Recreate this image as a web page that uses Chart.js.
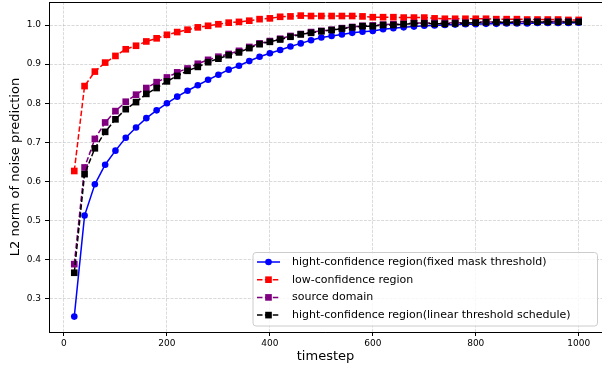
<!DOCTYPE html>
<html>
<head>
<meta charset="utf-8">
<script src="https://cdn.jsdelivr.net/npm/chart.js@4.4.0/dist/chart.umd.min.js"></script>
<style>
    html, body { margin: 0; padding: 0; background: #fff; }
    canvas { display: block; }
</style>
</head>
<body>
<canvas id="chart" width="602" height="368"></canvas>
<script>
const timesteps = [20, 40, 60, 80, 100, 120, 140, 160, 180, 200,
    220, 240, 260, 280, 300, 320, 340, 360, 380, 400,
    420, 440, 460, 480, 500, 520, 540, 560, 580, 600,
    620, 640, 660, 680, 700, 720, 740, 760, 780, 800,
    820, 840, 860, 880, 900, 920, 940, 960, 980, 1000];

const fixedMask = [0.255, 0.513, 0.593, 0.643, 0.679, 0.712, 0.738, 0.762, 0.782, 0.800,
    0.817, 0.832, 0.846, 0.860, 0.873, 0.886, 0.896, 0.908, 0.919, 0.928,
    0.936, 0.945, 0.953, 0.961, 0.968, 0.972, 0.976, 0.980, 0.983, 0.985,
    0.989, 0.992, 0.994, 0.996, 0.998, 0.999, 1.000, 1.001, 1.002, 1.002,
    1.003, 1.003, 1.004, 1.004, 1.004, 1.005, 1.005, 1.005, 1.005, 1.006];

const lowConf = [0.627, 0.844, 0.881, 0.904, 0.921, 0.938, 0.947, 0.958, 0.966, 0.975,
    0.982, 0.988, 0.994, 0.998, 1.002, 1.006, 1.008, 1.011, 1.015, 1.017,
    1.021, 1.022, 1.024, 1.023, 1.023, 1.023, 1.023, 1.023, 1.022, 1.020,
    1.020, 1.020, 1.019, 1.019, 1.019, 1.017, 1.016, 1.016, 1.016, 1.016,
    1.016, 1.015, 1.015, 1.015, 1.014, 1.014, 1.014, 1.014, 1.013, 1.013];

const sourceDomain = [0.389, 0.636, 0.709, 0.751, 0.780, 0.804, 0.822, 0.839, 0.854, 0.866,
    0.879, 0.889, 0.901, 0.911, 0.919, 0.926, 0.934, 0.944, 0.953, 0.959,
    0.965, 0.972, 0.977, 0.982, 0.985, 0.988, 0.992, 0.995, 0.998, 0.999,
    1.001, 1.002, 1.003, 1.005, 1.005, 1.005, 1.005, 1.006, 1.006, 1.007,
    1.008, 1.008, 1.008, 1.008, 1.009, 1.009, 1.009, 1.009, 1.009, 1.009];

const linearSchedule = [0.367, 0.619, 0.685, 0.727, 0.759, 0.785, 0.803, 0.824, 0.839, 0.856,
    0.870, 0.883, 0.893, 0.905, 0.914, 0.923, 0.930, 0.941, 0.951, 0.957,
    0.963, 0.970, 0.976, 0.980, 0.984, 0.987, 0.991, 0.994, 0.997, 0.997,
    1.000, 1.000, 1.002, 1.004, 1.004, 1.003, 1.003, 1.004, 1.005, 1.006,
    1.007, 1.007, 1.007, 1.007, 1.008, 1.008, 1.008, 1.008, 1.008, 1.008];

const seriesLabels = [
    'hight-confidence region(fixed mask threshold)',
    'low-confidence region',
    'source domain',
    'hight-confidence region(linear threshold schedule)'
];

const xTicks = [0, 200, 400, 600, 800, 1000];
const yTicks = [0.3, 0.4, 0.5, 0.6, 0.7, 0.8, 0.9, 1.0];

const FONT = '"DejaVu Sans", sans-serif';

function toPoints(ys) {
    return timesteps.map((t, i) => ({ x: t, y: ys[i] }));
}

function series(label, ys, color, style, dashed, order) {
    return {
        label: label,
        data: toPoints(ys),
        borderColor: color,
        backgroundColor: color,
        borderWidth: 1.5,
        borderDash: dashed ? [5.5, 2.4] : [],
        pointStyle: style,
        pointRadius: style === 'circle' ? 3.3 : 4.7,
        pointBackgroundColor: color,
        pointBorderWidth: 0,
        tension: 0,
        fill: false,
        order: order
    };
}

// matplotlib-like frame: top spine (right one is cut off in the reference)
const topSpine = {
    id: 'topSpine',
    afterDraw(chart) {
        const { ctx, chartArea } = chart;
        ctx.save();
        ctx.strokeStyle = '#000';
        ctx.lineWidth = 1;
        ctx.beginPath();
        ctx.moveTo(chartArea.left, chartArea.top + 0.5);
        ctx.lineTo(chartArea.right, chartArea.top + 0.5);
        ctx.stroke();
        ctx.restore();
    }
};

// boxed legend in the lower right corner of the plot
const boxLegend = {
    id: 'boxLegend',
    afterDraw(chart) {
        const { ctx, chartArea } = chart;
        const w = 344.5, h = 73.5;
        const x0 = chartArea.right - 4.5 - w;
        const y0 = chartArea.bottom - 6 - h;
        ctx.save();
        ctx.beginPath();
        ctx.roundRect(x0, y0, w, h, 3);
        ctx.fillStyle = 'rgba(255,255,255,0.8)';
        ctx.fill();
        ctx.strokeStyle = '#cccccc';
        ctx.lineWidth = 1;
        ctx.stroke();

        chart.data.datasets.forEach((ds, i) => {
            const cy = y0 + 9.5 + i * 17.7;
            ctx.strokeStyle = ds.borderColor;
            ctx.lineWidth = ds.borderWidth;
            ctx.setLineDash(ds.borderDash);
            ctx.beginPath();
            ctx.moveTo(x0 + 4, cy);
            ctx.lineTo(x0 + 27, cy);
            ctx.stroke();
            ctx.setLineDash([]);

            ctx.fillStyle = ds.pointBackgroundColor;
            ctx.beginPath();
            if (ds.pointStyle === 'circle') {
                ctx.arc(x0 + 15.5, cy, ds.pointRadius, 0, Math.PI * 2);
            } else {
                const s = ds.pointRadius * Math.SQRT1_2;
                ctx.rect(x0 + 15.5 - s, cy - s, 2 * s, 2 * s);
            }
            ctx.fill();

            ctx.fillStyle = '#000';
            ctx.font = '11px ' + FONT;
            ctx.textBaseline = 'middle';
            ctx.textAlign = 'left';
            ctx.fillText(ds.label, x0 + 39, cy);
        });
        ctx.restore();
    }
};

const gridColor = 'rgba(176,176,176,0.6)';

new Chart(document.getElementById('chart'), {
    type: 'line',
    data: {
        datasets: [
            series(seriesLabels[0], fixedMask, '#0000ff', 'circle', false, 3),
            series(seriesLabels[1], lowConf, '#ff0000', 'rect', true, 2),
            series(seriesLabels[2], sourceDomain, '#800080', 'rect', true, 1),
            series(seriesLabels[3], linearSchedule, '#000000', 'rect', true, 0)
        ]
    },
    options: {
        responsive: false,
        animation: false,
        devicePixelRatio: 1,
        layout: { autoPadding: false, padding: { left: 0, top: 2, right: 0, bottom: 0 } },
        plugins: {
            legend: { display: false },
            tooltip: { enabled: false }
        },
        scales: {
            x: {
                type: 'linear',
                min: -29.1,
                max: 1045.3,
                afterBuildTicks: (s) => { s.ticks = xTicks.map(v => ({ value: v })); },
                afterFit: (s) => {
                    s.height = 36;
                    s.paddingLeft = 0;
                    s.paddingRight = 0;
                },
                ticks: {
                    autoSkip: false,
                    maxRotation: 0,
                    padding: 2,
                    color: '#000',
                    font: { family: FONT, size: 9 },
                    callback: (v) => String(v)
                },
                grid: {
                    color: gridColor,
                    lineWidth: 0.8,
                    drawTicks: true,
                    tickLength: 4,
                    tickColor: '#000',
                    tickWidth: 1,
                    tickBorderDash: []
                },
                border: { display: true, color: '#000', width: 1, dash: [3, 1.3] },
                title: {
                    display: true,
                    text: 'timestep',
                    color: '#000',
                    font: { family: FONT, size: 13 },
                    padding: { top: 0, bottom: 4 }
                }
            },
            y: {
                type: 'linear',
                min: 0.2156,
                max: 1.0588,
                afterBuildTicks: (s) => { s.ticks = yTicks.map(v => ({ value: v })); },
                afterFit: (s) => {
                    s.width = 49;
                    s.paddingTop = 0;
                    s.paddingBottom = 0;
                },
                ticks: {
                    autoSkip: false,
                    padding: 4,
                    color: '#000',
                    font: { family: FONT, size: 9 },
                    callback: (v) => Number(v).toFixed(1)
                },
                grid: {
                    color: gridColor,
                    lineWidth: 0.8,
                    drawTicks: true,
                    tickLength: 4,
                    tickColor: '#000',
                    tickWidth: 1,
                    tickBorderDash: []
                },
                border: { display: true, color: '#000', width: 1, dash: [3, 1.3] },
                title: {
                    display: true,
                    text: 'L2 norm of noise prediction',
                    color: '#000',
                    font: { family: FONT, size: 13 },
                    padding: { top: 8, bottom: 0 }
                }
            }
        }
    },
    plugins: [topSpine, boxLegend]
});
</script>
</body>
</html>
